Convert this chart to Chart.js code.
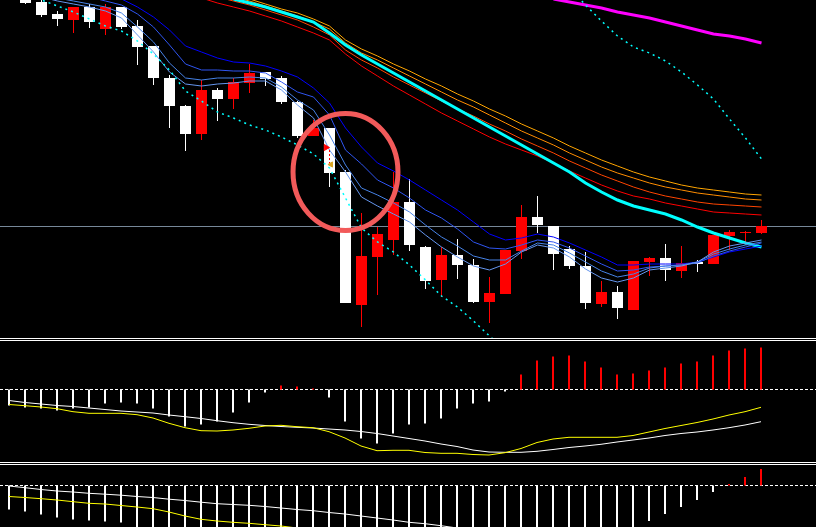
<!DOCTYPE html>
<html>
<head>
<meta charset="utf-8">
<script src="https://cdn.jsdelivr.net/npm/chart.js@4.4.1/dist/chart.umd.min.js"></script>
<style>
    html, body { margin: 0; padding: 0; background: #000; overflow: hidden; }
    #wrap { position: relative; width: 816px; height: 527px; background: #000; }
    canvas { position: absolute; left: 0; display: block; }
    .sep { position: absolute; left: 0; width: 816px; height: 1px; background: #fff; }
</style>
</head>
<body>
<div id="wrap">
    <canvas id="priceChart" width="816" height="338" style="top:0px"></canvas>
    <div class="sep" style="top:338px"></div>
    <div class="sep" style="top:340px"></div>
    <canvas id="macdChart" width="816" height="121" style="top:341px"></canvas>
    <div class="sep" style="top:462px"></div>
    <div class="sep" style="top:464px"></div>
    <canvas id="oscChart" width="816" height="62" style="top:465px"></canvas>
</div>
<script>
const nulls = n => Array(n).fill(null);

// candles (48 bars)
const candleOpen = [1.1049, 1.1042, 1.1035, 1.1023, 1.1017, 1.1030, 1.1008, 1.1030, 1.1011, 1.0991,
    1.0959, 1.0931, 1.0903, 1.0947, 1.0938, 1.0954, 1.0965, 1.0959, 1.0935, 1.0901,
    1.0909, 1.0865, 1.0732, 1.0780, 1.0797, 1.0835, 1.0790, 1.0757, 1.0782, 1.0772,
    1.0735, 1.0743, 1.0786, 1.0820, 1.0811, 1.0788, 1.0771, 1.0733, 1.0745, 1.0727,
    1.0775, 1.0779, 1.0766, 1.0775, 1.0773, 1.0801, 1.0804, 1.0804];
const candleHigh = [1.1053, 1.1045, 1.1037, 1.1026, 1.1030, 1.1033, 1.1033, 1.1030, 1.1017, 1.0991,
    1.0962, 1.0932, 1.0957, 1.0949, 1.0959, 1.0973, 1.0965, 1.0961, 1.0936, 1.0917,
    1.0909, 1.0867, 1.0824, 1.0810, 1.0865, 1.0858, 1.0791, 1.0790, 1.0798, 1.0778,
    1.0760, 1.0787, 1.0832, 1.0841, 1.0811, 1.0791, 1.0785, 1.0756, 1.0751, 1.0776,
    1.0780, 1.0793, 1.0791, 1.0777, 1.0802, 1.0807, 1.0806, 1.0817];
const candleLow = [1.1039, 1.1033, 1.1020, 1.1011, 1.1004, 1.1009, 1.1002, 1.1008, 1.0972, 1.0952,
    1.0909, 1.0886, 1.0897, 1.0916, 1.0928, 1.0944, 1.0951, 1.0933, 1.0899, 1.0901,
    1.0850, 1.0734, 1.0710, 1.0742, 1.0782, 1.0786, 1.0748, 1.0740, 1.0758, 1.0734,
    1.0714, 1.0743, 1.0778, 1.0804, 1.0767, 1.0768, 1.0728, 1.0730, 1.0718, 1.0727,
    1.0761, 1.0756, 1.0759, 1.0765, 1.0773, 1.0787, 1.0792, 1.0803];
const candleClose = [1.1040, 1.1034, 1.1022, 1.1018, 1.1030, 1.1015, 1.1030, 1.1010, 1.0990, 1.0959,
    1.0931, 1.0903, 1.0947, 1.0938, 1.0955, 1.0964, 1.0958, 1.0935, 1.0901, 1.0909,
    1.0864, 1.0734, 1.0781, 1.0803, 1.0835, 1.0792, 1.0756, 1.0782, 1.0772, 1.0735,
    1.0744, 1.0787, 1.0820, 1.0812, 1.0783, 1.0771, 1.0734, 1.0745, 1.0729, 1.0776,
    1.0779, 1.0767, 1.0774, 1.0773, 1.0802, 1.0805, 1.0805, 1.0811];

// fast moving averages (blue band)
const maBlue1 = nulls(6).concat([1.1045, 1.1038, 1.1030, 1.1020,
    1.1007, 1.0991, 1.0985, 1.0979, 1.0975, 1.0974, 1.0971, 1.0966, 1.0960, 1.0949,
    1.0934, 1.0909, 1.0890, 1.0874, 1.0866, 1.0857, 1.0847, 1.0837, 1.0827, 1.0815,
    1.0803, 1.0797, 1.0799, 1.0803, 1.0800, 1.0794, 1.0787, 1.0780, 1.0772, 1.0772,
    1.0773, 1.0773, 1.0773, 1.0775, 1.0780, 1.0785, 1.0788, 1.0791]);
const maBlue2 = nulls(5).concat([1.1040, 1.1036, 1.1032, 1.1023, 1.1010,
    1.0992, 1.0973, 1.0967, 1.0967, 1.0966, 1.0966, 1.0964, 1.0955, 1.0945, 1.0940,
    1.0922, 1.0887, 1.0873, 1.0857, 1.0849, 1.0839, 1.0827, 1.0819, 1.0808, 1.0795,
    1.0789, 1.0788, 1.0792, 1.0797, 1.0795, 1.0789, 1.0781, 1.0773, 1.0766, 1.0767,
    1.0770, 1.0771, 1.0772, 1.0774, 1.0781, 1.0786, 1.0790, 1.0794]);
const maBlue3 = nulls(3).concat([1.1039, 1.1036, 1.1033, 1.1030, 1.1024, 1.1010, 1.0995,
    1.0974, 1.0959, 1.0957, 1.0959, 1.0959, 1.0960, 1.0959, 1.0950, 1.0937, 1.0927,
    1.0902, 1.0872, 1.0849, 1.0842, 1.0834, 1.0825, 1.0812, 1.0800, 1.0791, 1.0781,
    1.0777, 1.0777, 1.0786, 1.0794, 1.0792, 1.0784, 1.0775, 1.0766, 1.0760, 1.0763,
    1.0769, 1.0771, 1.0772, 1.0775, 1.0783, 1.0788, 1.0792, 1.0795]);
const maBlue4 = nulls(2).concat([1.1040, 1.1036, 1.1033, 1.1030, 1.1026, 1.1019, 1.1002, 1.0985,
    1.0965, 1.0953, 1.0951, 1.0953, 1.0954, 1.0956, 1.0956, 1.0947, 1.0932, 1.0919,
    1.0887, 1.0865, 1.0840, 1.0831, 1.0823, 1.0815, 1.0802, 1.0790, 1.0780, 1.0771,
    1.0767, 1.0773, 1.0785, 1.0792, 1.0789, 1.0780, 1.0768, 1.0759, 1.0755, 1.0759,
    1.0767, 1.0769, 1.0771, 1.0775, 1.0785, 1.0791, 1.0794, 1.0797]);

// slow moving averages (orange/red band + cyan)
const maOrange1 = nulls(14).concat([1.1043, 1.1038, 1.1033, 1.1028, 1.1024, 1.1018,
    1.1011, 1.0997, 1.0988, 1.0981, 1.0973, 1.0966, 1.0958, 1.0951, 1.0943, 1.0936,
    1.0928, 1.0921, 1.0913, 1.0906, 1.0899, 1.0891, 1.0884, 1.0877, 1.0871, 1.0865,
    1.0860, 1.0856, 1.0852, 1.0849, 1.0847, 1.0845, 1.0843, 1.0842]);
const maOrange2 = nulls(14).concat([1.1040, 1.1036, 1.1031, 1.1026, 1.1021, 1.1015,
    1.1008, 1.0994, 1.0984, 1.0977, 1.0969, 1.0961, 1.0953, 1.0945, 1.0937, 1.0930,
    1.0922, 1.0914, 1.0906, 1.0899, 1.0892, 1.0884, 1.0877, 1.0870, 1.0864, 1.0859,
    1.0854, 1.0850, 1.0847, 1.0844, 1.0842, 1.0840, 1.0838, 1.0837]);
const maOrange3 = nulls(13).concat([1.1040, 1.1036, 1.1032, 1.1027, 1.1022, 1.1017, 1.1010,
    1.1002, 1.0987, 1.0977, 1.0969, 1.0960, 1.0952, 1.0944, 1.0936, 1.0928, 1.0921,
    1.0913, 1.0906, 1.0898, 1.0891, 1.0884, 1.0876, 1.0869, 1.0862, 1.0856, 1.0850,
    1.0845, 1.0841, 1.0838, 1.0835, 1.0833, 1.0832, 1.0831, 1.0830]);
const maRed = nulls(12).concat([1.1039, 1.1034, 1.1030, 1.1026, 1.1021, 1.1016, 1.1010, 1.1004,
    1.0997, 1.0983, 1.0971, 1.0961, 1.0951, 1.0942, 1.0933, 1.0924, 1.0916, 1.0908,
    1.0900, 1.0893, 1.0887, 1.0881, 1.0874, 1.0866, 1.0859, 1.0852, 1.0846, 1.0841,
    1.0838, 1.0834, 1.0831, 1.0828, 1.0825, 1.0824, 1.0823, 1.0822]);
const maCyan = nulls(14).concat([1.1038, 1.1034, 1.1030, 1.1025, 1.1020, 1.1015,
    1.1004, 1.0992, 1.0982, 1.0973, 1.0964, 1.0955, 1.0946, 1.0937, 1.0928, 1.0919,
    1.0910, 1.0901, 1.0892, 1.0883, 1.0874, 1.0865, 1.0854, 1.0845, 1.0837, 1.0831,
    1.0827, 1.0823, 1.0817, 1.0810, 1.0804, 1.0799, 1.0794, 1.0790]);
const maMagenta = nulls(34).concat([1.1038, 1.1035, 1.1032, 1.1029, 1.1025, 1.1022,
    1.1019, 1.1015, 1.1011, 1.1007, 1.1003, 1.1001, 1.0998, 1.0994]);
const dottedBand = [null, 1.1041, 1.1037, 1.1031, 1.1025, 1.1018, 1.1011, 1.1006, 1.0996, 1.0983,
    1.0967, 1.0946, 1.0936, 1.0925, 1.0919, 1.0912, 1.0907, 1.0900, 1.0892, 1.0883,
    1.0869, 1.0839, 1.0809, 1.0795, 1.0785, 1.0772, 1.0757, 1.0741, 1.0730, 1.0716,
    1.0701, 1.0687, null, null, null, 1.1049, 1.1032, 1.1016, 1.1001, 1.0990,
    1.0984, 1.0976, 1.0965, 1.0952, 1.0938, 1.0918, 1.0899, 1.0878];

const bidPrice = 1.0811;

// MACD window, in points
const macdHist = [-16, -18, -19, -21, -19, -18, -14, -13, -14, -19,
    -27, -37, -35, -32, -23, -13, -3, 4, 3, 1,
    -8, -32, -49, -54, -44, -35, -34, -29, -19, -14,
    -12, -2, 15, 29, 33, 34, 28, 22, 15, 16,
    19, 22, 26, 28, 34, 39, 41, 42];
const macdMain = [-11, -13, -14.5, -16, -17, -18.5, -20, -21.5, -22.5, -23.5,
    -25.5, -27.2, -29, -31.2, -33.2, -34.8, -36, -37, -37.8, -38.5,
    -39.5, -40.5, -42, -44, -46.5, -49, -51.5, -54.5, -57, -60.5,
    -62.5, -62.8, -62.8, -61.8, -60, -58, -56.5, -54.8, -52.5, -50.5,
    -48.5, -46, -44, -42.5, -40.5, -38.2, -35.5, -32.2];
const macdSignal = [-15, -16.2, -17.5, -19.2, -22.2, -23.8, -23.8, -23.8, -25.2, -28.5,
    -33.8, -38.2, -41.2, -41.5, -40.5, -38.8, -36.5, -35.8, -37.2, -38.2,
    -42.2, -48.5, -56.5, -61.2, -60.8, -60.8, -63, -63.8, -63.8, -65,
    -65.5, -63.2, -59, -53, -49.5, -47.8, -47.8, -47.8, -47.8, -46,
    -42.5, -39, -36, -33, -29.5, -25.5, -22.2, -17.8];

// lower oscillator window, in points (most of it runs below the window)
const oscHist = [-24, -26, -29, -32, -34, -35, -36, -37, -45, -50,
    -58, -68, -74, -77, -78, -76, -72, -68, -66, -64,
    -66, -74, -85, -94, -98, -99, -98, -95, -90, -85,
    -80, -74, -68, -63, -60, -57, -55, -52, -48, -44,
    -35.5, -28.5, -21.5, -14.5, -6.5, 1.5, 8.5, 16.5];
const oscMain = [-0.5, -2.2, -4, -5.5, -6.5, -7.8, -8.7, -9.7, -11, -12,
    -13.7, -15, -16.7, -18.2, -19, -19.8, -21, -22.5, -24, -25.2,
    -27, -28.5, -30.5, -32.5, -34.5, -36.8, -38.2, -40.2, -42.5, -44.5].concat(nulls(18));
const oscSignal = [-11, -12, -13.2, -14.5, -16.2, -17.8, -18.5, -20, -21.5, -23.2,
    -26.5, -30.5, -33.8, -35.5, -36.8, -37.8, -39.2, -40.5, -42.5, -44].concat(nulls(28));

const barSlots = 51;
const UP = '#ff0000', DOWN = '#ffffff';

function points(values) {
    return values.map((v, i) => ({ x: i, y: v }));
}

function lineSet(values, color, width, order, extra) {
    return Object.assign({
        type: 'line',
        data: points(values),
        borderColor: color,
        borderWidth: width,
        pointRadius: 0,
        tension: 0,
        fill: false,
        spanGaps: false,
        order: order
    }, extra || {});
}

function barSet(data, colors, thickness, order) {
    return {
        type: 'bar',
        data: data,
        backgroundColor: colors,
        barThickness: thickness,
        grouped: false,
        borderWidth: 0,
        inflateAmount: 0,
        order: order
    };
}

function levelLine(id, value, color, dash) {
    return {
        id: id,
        beforeDatasetsDraw(chart) {
            const { ctx, chartArea, scales } = chart;
            const y = Math.floor(scales.y.getPixelForValue(value)) + 0.5;
            ctx.save();
            ctx.strokeStyle = color;
            ctx.lineWidth = 1;
            ctx.setLineDash(dash);
            ctx.beginPath();
            ctx.moveTo(chartArea.left, y);
            ctx.lineTo(chartArea.right, y);
            ctx.stroke();
            ctx.restore();
        }
    };
}

// hand drawn highlight round bar 21
const circleBar = 21, circlePrice = 1.0865, circleBarRadius = 3.28, circlePriceRadius = 0.00585;
const circlePlugin = {
    id: 'markCircle',
    afterDatasetsDraw(chart) {
        const { ctx, scales } = chart;
        const cx = scales.x.getPixelForValue(circleBar);
        const cy = scales.y.getPixelForValue(circlePrice);
        const rx = scales.x.getPixelForValue(circleBar + circleBarRadius) - cx;
        const ry = scales.y.getPixelForValue(circlePrice - circlePriceRadius) - cy;
        ctx.save();
        ctx.strokeStyle = '#f25a5a';
        ctx.lineWidth = 5;
        ctx.beginPath();
        ctx.ellipse(cx, cy, rx, ry, 0, 0, Math.PI * 2);
        ctx.stroke();
        ctx.restore();
    }
};

function setupPanel(canvasId, xMin, yMin, yMax, datasets, extraPlugins) {
    return new Chart(document.getElementById(canvasId), {
        type: 'bar',
        data: { datasets: datasets },
        options: {
            responsive: false,
            animation: false,
            devicePixelRatio: 1,
            events: [],
            layout: { padding: 0, autoPadding: false },
            plugins: { legend: { display: false }, tooltip: { enabled: false } },
            scales: {
                x: { type: 'linear', min: xMin, max: xMin + barSlots, display: false, offset: false },
                y: { type: 'linear', min: yMin, max: yMax, display: false }
            }
        },
        plugins: extraPlugins
    });
}

// price window
let candleColors = candleOpen.map((o, i) => candleClose[i] > o ? UP : DOWN);
let wicks = candleOpen.map((o, i) => ({ x: i, y: [candleLow[i], candleHigh[i]] }));
let bodies = candleOpen.map((o, i) => ({ x: i, y: [Math.min(o, candleClose[i]), Math.max(o, candleClose[i])] }));

setupPanel('priceChart', -0.59375, 1.0699, 1.1037, [
    barSet(wicks, candleColors, 1, 31),
    barSet(bodies, candleColors, 11, 30),
    lineSet(maOrange1, '#ffa500', 1, 20),
    lineSet(maOrange2, '#ff8c00', 1, 19),
    lineSet(maOrange3, '#ff4500', 1, 18),
    lineSet(maRed, '#ff0000', 1, 17),
    lineSet(maCyan, '#00ffff', 3, 16),
    lineSet(maMagenta, '#ff00ff', 3, 15),
    lineSet(maBlue1, '#0000ff', 1, 14),
    lineSet(maBlue2, '#2f55f0', 1, 13),
    lineSet(maBlue3, '#4682e6', 1, 12),
    lineSet(maBlue4, '#6495ed', 1, 11),
    lineSet(dottedBand, '#00ffff', 1.5, 10, { borderDash: [2, 4] }),
    { type: 'line', data: [{ x: 20, y: 1.0887 }, { x: 20, y: 1.0874 }], borderColor: '#ff0000', borderWidth: 1,
      borderDash: [2, 2], pointRadius: 0, order: 3 },
    { type: 'line', data: [{ x: 19.78, y: 1.08895 }], showLine: false, pointStyle: 'triangle', rotation: 90,
      pointRadius: 3.5, backgroundColor: '#ff0000', borderColor: '#ff0000', order: 2 },
    { type: 'line', data: [{ x: 20.09, y: 1.08725 }], showLine: false, pointStyle: 'triangle', rotation: -90,
      pointRadius: 3, backgroundColor: '#daa520', borderColor: '#daa520', order: 1 }
], [levelLine('bidLine', bidPrice, '#778899', []), circlePlugin]);

// MACD window
setupPanel('macdChart', -0.5625, -72.5, 48.5, [
    barSet(points(macdHist), macdHist.map(v => v > 0 ? UP : DOWN), 2, 10),
    lineSet(macdMain, '#ffffff', 1, 2),
    lineSet(macdSignal, '#ffff00', 1, 1)
], [levelLine('zeroLine', 0, '#ffffff', [3, 2])]);

// lower oscillator window
setupPanel('oscChart', -0.5625, -41.5, 20.5, [
    barSet(points(oscHist), oscHist.map(v => v > 0 ? UP : DOWN), 2, 10),
    lineSet(oscMain, '#ffffff', 1, 2),
    lineSet(oscSignal, '#ffff00', 1, 1)
], [levelLine('zeroLine', 0, '#ffffff', [3, 2])]);
</script>
</body>
</html>
